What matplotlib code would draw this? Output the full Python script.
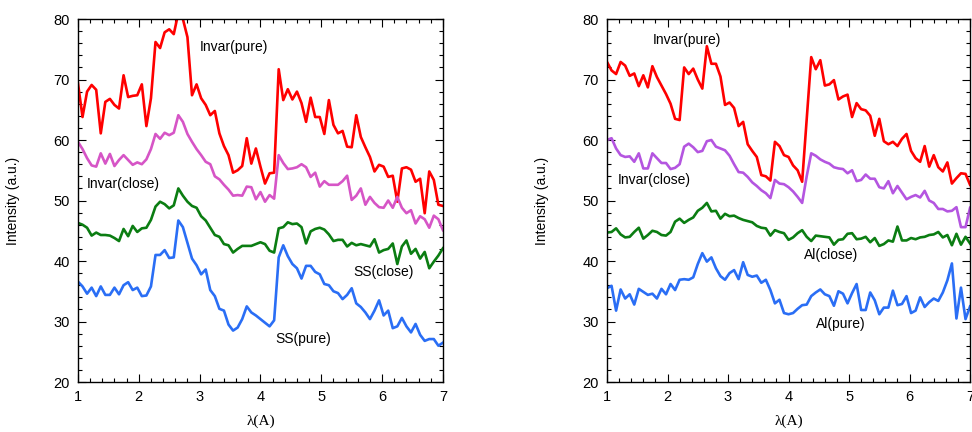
import numpy as np
import matplotlib
matplotlib.use("Agg")
import matplotlib.pyplot as plt
from matplotlib.ticker import MultipleLocator

plt.rcParams['font.family'] = ['Liberation Sans', 'DejaVu Sans']

# wavelength grid (A)
lam = np.linspace(1, 7, 81)

# left panel: stainless steel
ss_invar_pure = [
    69.4, 63.8, 68.0, 69.1, 68.3, 61.1, 66.3, 66.8, 65.8,
    65.2, 70.7, 67.1, 67.3, 67.4, 69.2, 62.3, 66.9, 76.2,
    75.2, 77.8, 78.3, 77.5, 81.0, 80.0, 77.0, 67.4, 69.2,
    66.9, 65.8, 64.1, 64.8, 61.1, 59.0, 57.5, 54.6, 55.0,
    55.7, 60.3, 56.1, 58.6, 55.6, 52.8, 54.5, 54.6, 71.7,
    66.6, 68.4, 66.7, 68.0, 66.1, 63.0, 67.0, 63.8, 63.8,
    61.0, 66.6, 62.5, 61.1, 61.5, 58.9, 58.8, 64.1, 60.5,
    58.8, 57.2, 54.8, 55.9, 55.6, 53.9, 54.1, 49.8, 55.3,
    55.5, 55.1, 53.1, 53.6, 47.9, 54.8, 53.4, 49.3, 49.1]
ss_invar_close = [
    59.7, 58.5, 57.0, 55.8, 55.6, 57.8, 56.1, 57.7, 55.7,
    56.7, 57.5, 56.7, 55.9, 56.3, 56.0, 56.8, 58.5, 61.0,
    60.2, 61.2, 60.8, 61.2, 64.1, 63.0, 61.0, 59.7, 58.5,
    57.5, 56.4, 56.0, 54.0, 53.5, 52.6, 51.8, 50.8, 50.9,
    50.8, 52.3, 52.2, 50.2, 51.4, 49.8, 50.9, 50.3, 57.5,
    56.2, 55.2, 55.3, 55.5, 56.0, 55.5, 53.9, 54.6, 52.3,
    53.2, 52.6, 52.6, 52.6, 53.2, 54.1, 50.1, 50.8, 52.0,
    49.3, 50.6, 49.6, 48.9, 48.8, 50.0, 48.8, 50.6, 48.8,
    47.9, 48.4, 46.2, 47.4, 46.9, 45.5, 47.5, 46.9, 45.1]
ss_close = [
    46.3, 46.0, 45.5, 44.2, 44.7, 44.3, 44.3, 44.2, 43.8,
    43.3, 45.3, 44.1, 45.8, 44.8, 45.4, 45.5, 46.8, 49.0,
    49.8, 49.4, 48.7, 49.2, 52.0, 50.8, 49.8, 49.1, 48.8,
    47.4, 46.7, 45.5, 44.3, 44.0, 42.8, 42.6, 41.4, 42.0,
    42.5, 42.5, 42.5, 42.8, 43.1, 42.8, 41.7, 41.4, 45.4,
    45.6, 46.4, 46.1, 46.2, 45.6, 42.9, 44.9, 45.3, 45.5,
    45.2, 44.4, 43.3, 43.5, 43.5, 42.4, 43.0, 42.6, 42.8,
    42.6, 42.4, 43.6, 41.4, 41.8, 42.0, 42.9, 39.5, 42.4,
    43.4, 41.2, 42.0, 40.4, 41.5, 38.8, 39.9, 40.9, 42.1]
ss_pure = [
    36.6, 35.8, 34.6, 35.6, 34.2, 35.8, 34.4, 34.4, 35.6,
    34.5, 36.0, 36.5, 35.2, 35.6, 34.2, 34.3, 35.8, 41.0,
    41.0, 41.8, 40.5, 40.6, 46.7, 45.6, 43.0, 40.4, 39.3,
    37.8, 38.6, 35.2, 34.2, 32.1, 31.8, 29.5, 28.5, 29.0,
    30.4, 32.5, 31.5, 31.0, 30.4, 29.8, 29.2, 30.2, 40.6,
    42.6, 40.8, 39.5, 38.8, 37.1, 39.2, 39.2, 38.2, 37.8,
    36.2, 36.0, 35.0, 34.7, 33.7, 34.4, 35.5, 33.0, 32.4,
    31.5, 30.4, 31.8, 33.5, 31.0, 31.8, 28.9, 29.2, 30.6,
    29.2, 28.2, 29.6, 27.8, 26.8, 27.1, 27.1, 26.0, 26.5]

# right panel: aluminium
al_invar_pure = [
    72.9, 71.5, 70.9, 72.9, 72.3, 70.6, 71.0, 68.9, 70.7,
    68.7, 72.2, 70.4, 69.0, 67.6, 66.0, 63.5, 63.3, 72.0,
    70.9, 71.8, 70.0, 68.5, 75.5, 72.6, 72.6, 70.5, 65.8,
    66.2, 65.3, 62.3, 63.0, 59.3, 58.2, 57.2, 54.2, 54.0,
    53.3, 59.7, 59.0, 57.5, 57.2, 55.8, 55.0, 53.1, 63.4,
    73.7, 71.7, 73.2, 69.0, 69.2, 69.9, 66.7, 67.2, 67.5,
    63.8, 66.1, 65.1, 64.9, 64.0, 60.7, 63.5, 59.8, 59.3,
    59.7, 59.0, 60.2, 61.0, 58.2, 57.0, 56.4, 59.0, 55.6,
    57.5, 55.5, 54.8, 56.3, 52.8, 53.7, 54.5, 54.4, 52.6]
al_invar_close = [
    60.0, 60.3, 58.6, 57.5, 57.2, 57.3, 56.4, 57.8, 55.3,
    55.3, 57.8, 57.0, 56.2, 56.2, 55.2, 55.4, 56.0, 58.9,
    59.4, 58.8, 58.0, 58.2, 59.8, 60.0, 58.9, 58.6, 58.3,
    57.4, 56.0, 54.7, 54.6, 53.9, 53.0, 52.4, 51.7, 51.2,
    50.4, 53.4, 52.8, 52.7, 52.2, 51.5, 50.6, 49.6, 54.0,
    57.8, 57.4, 56.8, 56.4, 56.1, 55.5, 55.3, 55.2, 54.5,
    55.0, 53.2, 53.4, 54.3, 53.6, 53.6, 52.2, 52.0, 53.2,
    51.2, 52.4, 51.3, 50.2, 50.6, 50.9, 50.5, 51.6, 50.0,
    49.6, 48.6, 48.6, 48.2, 48.3, 48.9, 45.6, 45.6, 48.8]
al_close = [
    44.7, 44.8, 45.4, 44.4, 43.9, 44.0, 44.8, 45.5, 43.7,
    44.3, 45.0, 44.8, 44.3, 44.2, 44.8, 46.5, 47.0, 46.3,
    46.8, 47.2, 48.3, 48.8, 49.6, 48.2, 48.3, 47.0, 47.8,
    47.4, 47.5, 47.1, 46.8, 46.6, 46.4, 45.8, 45.5, 45.4,
    44.2, 45.1, 44.8, 44.6, 43.5, 43.9, 44.6, 45.1, 44.0,
    43.3, 44.2, 44.1, 44.0, 43.9, 42.7, 43.5, 43.6, 44.5,
    44.6, 43.6, 43.7, 44.0, 43.1, 43.8, 42.5, 42.8, 43.4,
    43.2, 45.7, 43.4, 43.4, 43.8, 43.6, 43.9, 44.0, 44.3,
    44.4, 44.8, 43.9, 44.3, 42.6, 44.5, 42.7, 44.0, 42.9]
al_pure = [
    35.5, 35.9, 31.8, 35.3, 33.8, 34.5, 32.8, 35.4, 34.9,
    34.4, 34.6, 33.8, 35.4, 34.5, 36.2, 35.2, 36.9, 37.0,
    36.9, 37.3, 39.5, 41.3, 39.9, 40.6, 38.8, 37.5, 36.9,
    38.0, 38.5, 37.0, 39.8, 37.7, 37.4, 37.6, 36.4, 36.9,
    35.2, 33.0, 33.6, 31.4, 31.2, 31.4, 32.1, 32.7, 32.8,
    34.2, 34.8, 35.3, 34.5, 34.2, 32.6, 35.0, 34.6, 33.0,
    34.7, 36.2, 31.9, 31.9, 34.8, 33.5, 31.2, 32.3, 32.3,
    35.1, 32.7, 32.9, 34.2, 31.4, 31.8, 34.0, 32.4, 33.2,
    33.8, 33.4, 34.8, 36.8, 39.6, 30.5, 35.6, 30.4, 32.5]

RED = '#ff0000'
GREEN = '#0b7d12'
BLUE = '#2a6ef5'

fig = plt.figure(figsize=(9.72, 4.32), dpi=100)
ax1 = fig.add_axes([0.0802, 0.1157, 0.3755, 0.8403])
ax2 = fig.add_axes([0.6245, 0.1157, 0.3735, 0.8403])

panels = [
    (ax1, [(ss_invar_pure, RED), (ss_invar_close, '#d655c6'),
           (ss_close, GREEN), (ss_pure, BLUE)],
     [('Invar(pure)', 3.0, 75.4), ('Invar(close)', 1.15, 52.7),
      ('SS(close)', 5.52, 38.2), ('SS(pure)', 4.25, 27.1)]),
    (ax2, [(al_invar_pure, RED), (al_invar_close, '#b455e0'),
           (al_close, GREEN), (al_pure, BLUE)],
     [('Invar(pure)', 1.76, 76.5), ('Invar(close)', 1.18, 53.4),
      ('Al(close)', 4.26, 41.0), ('Al(pure)', 4.45, 29.6)]),
]

for ax, series, labels in panels:
    for vals, col in series:
        ax.plot(lam, vals, color=col, lw=1.9)
    for txt, x, y in labels:
        ax.text(x, y, txt, fontsize=10, va='center', ha='left')
    ax.set_xlim(1, 7)
    ax.set_ylim(20, 80)
    ax.xaxis.set_major_locator(MultipleLocator(1))
    ax.xaxis.set_minor_locator(MultipleLocator(0.2))
    ax.yaxis.set_major_locator(MultipleLocator(10))
    ax.yaxis.set_minor_locator(MultipleLocator(2))
    ax.tick_params(which='both', direction='in', top=True, right=True,
                   labelsize=10.5, width=0.8)
    ax.tick_params(which='major', length=6, pad=6)
    ax.tick_params(which='minor', length=3)
    ax.set_xlabel('λ(A)', family=['Liberation Serif', 'DejaVu Serif'],
                  fontsize=11, labelpad=7)
    ax.set_ylabel('Intensity (a.u.)', fontsize=10, labelpad=24)
    for sp in ax.spines.values():
        sp.set_linewidth(1.0)

fig.savefig('out.png', dpi=100)
